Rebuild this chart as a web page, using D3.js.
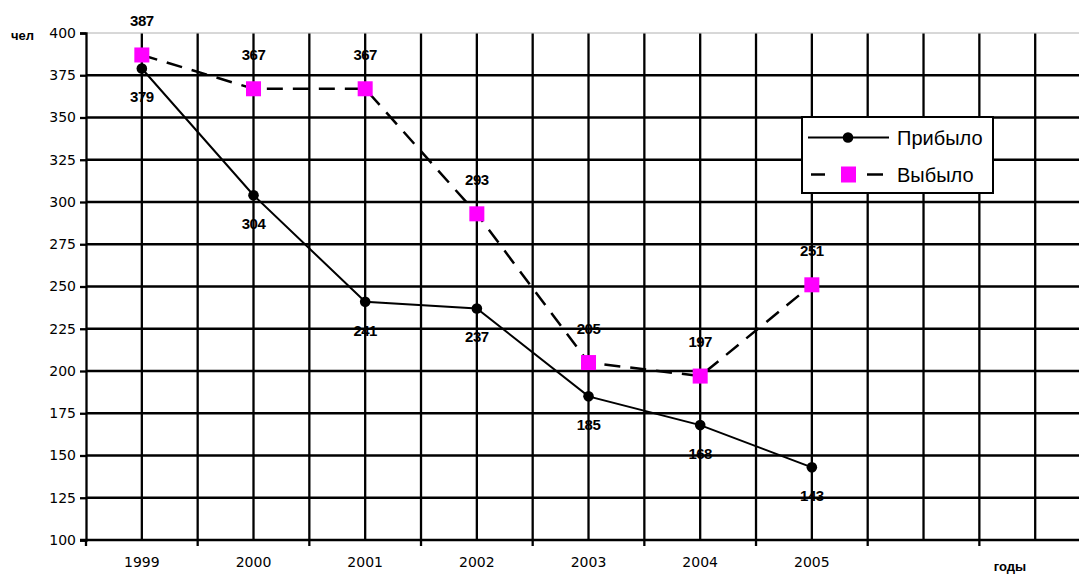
<!DOCTYPE html>
<html>
<head>
<meta charset="utf-8">
<script src="https://cdn.jsdelivr.net/npm/d3@7"></script>
<style>
  html, body { margin: 0; padding: 0; background: #fff; }
  svg { display: block; }
</style>
</head>
<body>
<svg id="chart" width="1079" height="574"></svg>
<script>
// ---- data ----
const categories = ["1999", "2000", "2001", "2002", "2003", "2004", "2005", "", " "];
const years = ["1999", "2000", "2001", "2002", "2003", "2004", "2005"];
const arrived = [379, 304, 241, 237, 185, 168, 143];   // Прибыло
const departed = [387, 367, 367, 293, 205, 197, 251];  // Выбыло
const yTicks = [100, 125, 150, 175, 200, 225, 250, 275, 300, 325, 350, 375, 400];
const seriesNames = ["Прибыло", "Выбыло"];
const yTitle = "чел";
const xTitle = "годы";

(function () {
// ---- layout ----
const svg = d3.select("#chart");
const pLeft = 86, pTop = 33, pBottom = 540;
const bandW = 111.67;
const pRight = pLeft + bandW * categories.length;

const x = d3.scaleBand().domain(categories).range([pLeft, pRight]).padding(0);
const y = d3.scaleLinear().domain([100, 400]).range([pBottom, pTop]);
const cx = c => x(c) + x.bandwidth() / 2;

const tickFont = "'DejaVu Sans', sans-serif";
const boldFont = "'Liberation Sans', Arial, sans-serif";
const gw = 2.3;

// top border (gray)
svg.append("line")
  .attr("x1", pLeft).attr("x2", pRight).attr("y1", y(400)).attr("y2", y(400))
  .attr("stroke", "#b0b0b0").attr("stroke-width", 1);

// horizontal gridlines
svg.append("g").selectAll("line")
  .data(yTicks.filter(v => v > 100 && v < 400))
  .join("line")
  .attr("x1", pLeft).attr("x2", pRight)
  .attr("y1", d => y(d)).attr("y2", d => y(d))
  .attr("stroke", "#000").attr("stroke-width", gw);

// vertical gridlines: band edges and band centers
const vEdges = categories.map(c => x(c)).slice(1).concat([pRight]);
const vCenters = categories.map(c => cx(c));
svg.append("g").selectAll("line")
  .data(vEdges.concat(vCenters))
  .join("line")
  .attr("x1", d => d).attr("x2", d => d)
  .attr("y1", y(400) + 0.5).attr("y2", pBottom)
  .attr("stroke", "#000").attr("stroke-width", gw);

// y axis
const yAxis = d3.axisLeft(y).tickValues(yTicks).tickSize(6).tickPadding(4);
const gy = svg.append("g").attr("transform", `translate(${pLeft},0)`).call(yAxis);
gy.select(".domain").attr("stroke", "#000").attr("stroke-width", gw);
gy.selectAll(".tick line").attr("stroke", "#000").attr("stroke-width", gw);
gy.selectAll(".tick text")
  .attr("font-family", tickFont).attr("font-size", 14).attr("fill", "#000");

// x axis: ticks at band edges
svg.append("line")
  .attr("x1", pLeft - 6).attr("x2", pRight).attr("y1", pBottom).attr("y2", pBottom)
  .attr("stroke", "#000").attr("stroke-width", gw);
svg.append("g").selectAll("line")
  .data(categories.map(c => x(c)).concat([pRight]))
  .join("line")
  .attr("x1", d => d).attr("x2", d => d)
  .attr("y1", pBottom).attr("y2", pBottom + 6)
  .attr("stroke", "#000").attr("stroke-width", gw);
svg.append("g").selectAll("text")
  .data(categories.filter(c => c.trim() !== ""))
  .join("text")
  .attr("x", d => cx(d)).attr("y", 567)
  .attr("text-anchor", "middle")
  .attr("font-family", tickFont).attr("font-size", 14).attr("fill", "#000")
  .text(d => d);

// axis titles
svg.append("text").attr("x", 11).attr("y", 40)
  .attr("font-family", boldFont).attr("font-weight", "bold").attr("font-size", 13)
  .text(yTitle);
svg.append("text").attr("x", 1010).attr("y", 571).attr("text-anchor", "middle")
  .attr("font-family", boldFont).attr("font-weight", "bold").attr("font-size", 13)
  .text(xTitle);

// lines
const line = d3.line().x((d, i) => cx(years[i])).y(d => y(d));
svg.append("path").datum(departed).attr("d", line)
  .attr("fill", "none").attr("stroke", "#000").attr("stroke-width", 2.5)
  .attr("stroke-dasharray", "16,10");
svg.append("path").datum(arrived).attr("d", line)
  .attr("fill", "none").attr("stroke", "#000").attr("stroke-width", 2);

// markers
svg.append("g").selectAll("circle").data(arrived).join("circle")
  .attr("cx", (d, i) => cx(years[i])).attr("cy", d => y(d)).attr("r", 5.3)
  .attr("fill", "#000");
svg.append("g").selectAll("rect").data(departed).join("rect")
  .attr("x", (d, i) => cx(years[i]) - 7.5).attr("y", d => y(d) - 7.5)
  .attr("width", 15).attr("height", 15).attr("fill", "#ff00ff");

// data labels
const lab = (data, dy) => svg.append("g").selectAll("text").data(data).join("text")
  .attr("x", (d, i) => cx(years[i])).attr("y", d => y(d) + dy)
  .attr("text-anchor", "middle")
  .attr("font-family", boldFont).attr("font-weight", "bold").attr("font-size", 15)
  .attr("letter-spacing", "-0.5px")
  .attr("fill", "#000")
  .text(d => d);
lab(arrived, 34);
lab(departed, -29);

// legend
const lg = svg.append("g");
lg.append("rect").attr("x", 802).attr("y", 117).attr("width", 191).attr("height", 76)
  .attr("fill", "#fff").attr("stroke", "#000").attr("stroke-width", 2);
const rows = [137.5, 174.5];
lg.append("line").attr("x1", 808).attr("x2", 889).attr("y1", rows[0]).attr("y2", rows[0])
  .attr("stroke", "#000").attr("stroke-width", 2);
lg.append("circle").attr("cx", 848).attr("cy", rows[0]).attr("r", 5.3).attr("fill", "#000");
lg.append("line").attr("x1", 811).attr("x2", 825).attr("y1", rows[1]).attr("y2", rows[1])
  .attr("stroke", "#000").attr("stroke-width", 2.5);
lg.append("line").attr("x1", 867).attr("x2", 883).attr("y1", rows[1]).attr("y2", rows[1])
  .attr("stroke", "#000").attr("stroke-width", 2.5);
lg.append("rect").attr("x", 841).attr("y", rows[1] - 8).attr("width", 15).attr("height", 16)
  .attr("fill", "#ff00ff");
lg.selectAll("text.leg").data(seriesNames).join("text").attr("class", "leg")
  .attr("x", 897).attr("y", (d, i) => rows[i] + 7)
  .attr("font-family", boldFont).attr("font-size", 20).attr("fill", "#000")
  .text(d => d);
})();
</script>
</body>
</html>
